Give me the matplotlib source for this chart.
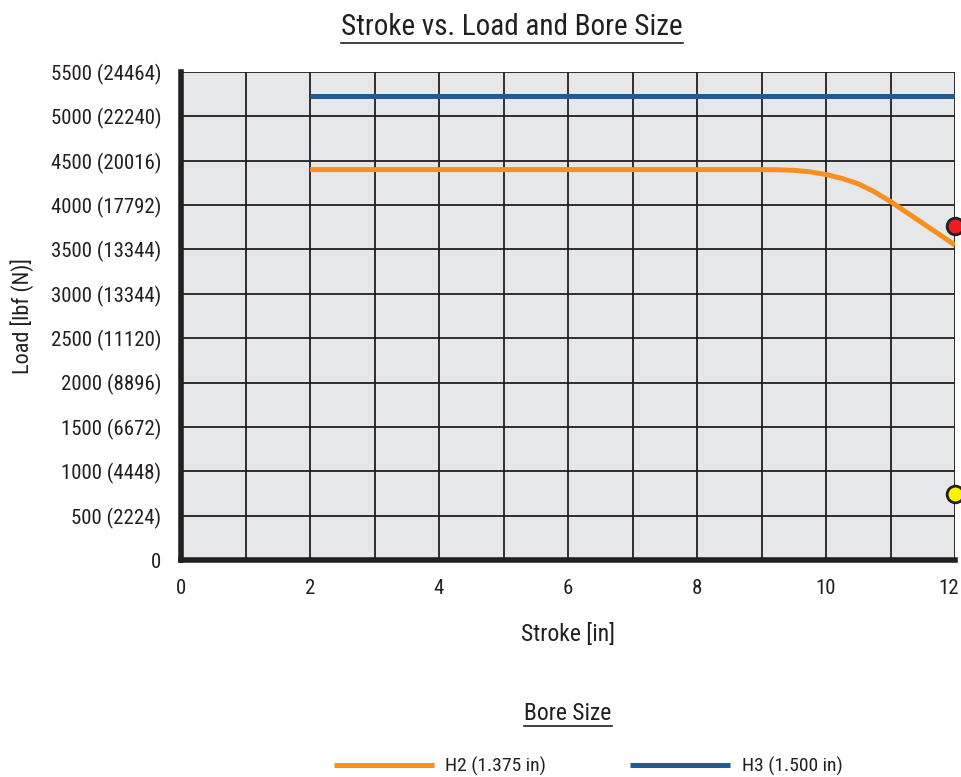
import numpy as np
import matplotlib
matplotlib.use("Agg")
import matplotlib.pyplot as plt
import matplotlib.transforms as mtransforms
from matplotlib.lines import Line2D
from matplotlib import font_manager

names = {f.name for f in font_manager.fontManager.ttflist}
fams = [f for f in ['Roboto Condensed', 'Liberation Sans Narrow', 'Roboto'] if f in names]
plt.rcParams['font.family'] = fams + ['DejaVu Sans']

# data
h2_stroke = [2, 4, 6, 8, 9, 9.25, 9.5, 9.75, 10, 10.25, 10.5, 10.75, 11, 11.5, 12]
h2_load = [4400, 4400, 4400, 4400, 4400, 4398, 4392, 4375, 4345, 4300, 4240, 4150, 4040, 3795, 3550]
h3_stroke = [2, 12]
h3_load = [5230, 5230]
pt_stroke = [12, 12]
pt_load = [3765, 745]
pt_colors = ['#ed1c24', '#fff200']

y_ticks = np.arange(0, 5501, 500)
y_labels = ['0', '500 (2224)', '1000 (4448)', '1500 (6672)', '2000 (8896)',
            '2500 (11120)', '3000 (13344)', '3500 (13344)', '4000 (17792)',
            '4500 (20016)', '5000 (22240)', '5500 (24464)']
x_ticks = [0, 2, 4, 6, 8, 10, 12]

orange = '#f7901e'
blue = '#1f5b94'
txt = '#231f20'

fig = plt.figure(figsize=(9.61, 7.77), dpi=100)
ax = fig.add_axes([181/961, 1-560/777, (955-181)/961, (560-72)/777])
ax.set_facecolor('#e6e7e8')

l2, = ax.plot(h2_stroke, h2_load, color=orange, lw=3.6, solid_capstyle='butt', zorder=3)
l3, = ax.plot(h3_stroke, h3_load, color=blue, lw=3.6, solid_capstyle='butt', zorder=3)
for xs, ys, c in zip(pt_stroke, pt_load, pt_colors):
    ax.plot(xs, ys, 'o', ms=12, mfc=c, mec=txt, mew=2, clip_on=False, zorder=5)

ax.set_xlim(0, 12)
ax.set_ylim(0, 5500)
ax.set_xticks(x_ticks)
ax.set_xticks(np.arange(0, 13, 1), minor=True)
ax.set_yticks(y_ticks)
ax.set_yticklabels(y_labels)
ax.grid(True, which='both', color=txt, lw=1.3, zorder=1)
ax.set_axisbelow(True)
ax.tick_params(which='both', length=0, labelsize=15, labelcolor=txt)
ax.tick_params(axis='x', pad=14)
ax.tick_params(axis='y', pad=14)
for s in ['top', 'right']:
    ax.spines[s].set_visible(False)
for s in ['left', 'bottom']:
    ax.spines[s].set_linewidth(4)
    ax.spines[s].set_color(txt)

# last x label nudged left so it stays inside the figure
last = ax.get_xticklabels()[-1]
last.set_transform(last.get_transform() + mtransforms.ScaledTranslation(-6/100, 0, fig.dpi_scale_trans))

ax.set_xlabel('Stroke [in]', fontsize=17, color=txt, labelpad=18)
ax.set_ylabel('Load [lbf (N)]', fontsize=16, color=txt, labelpad=12)

title = fig.text(512/961, 1-27/777, 'Stroke vs. Load and Bore Size', ha='center', va='center',
                 fontsize=21, color=txt)
bore = fig.text(568/961, 1-713/777, 'Bore Size', ha='center', va='center', fontsize=17, color=txt)

fig.legend([l2, l3], ['H2 (1.375 in)', 'H3 (1.500 in)'], loc='center',
           bbox_to_anchor=(588/961, 1-766/777), ncol=2, frameon=False,
           handlelength=5.15, handletextpad=0.6, columnspacing=4.3, fontsize=14,
           labelcolor=txt)

fig.canvas.draw()
r = fig.canvas.get_renderer()
for t in [title, bore]:
    bb = t.get_window_extent(r).transformed(fig.transFigure.inverted())
    y = bb.y0 - 0.002
    fig.add_artist(Line2D([bb.x0, bb.x1], [y, y], color=txt, lw=1.2))

fig.savefig('out.png', dpi=100)
